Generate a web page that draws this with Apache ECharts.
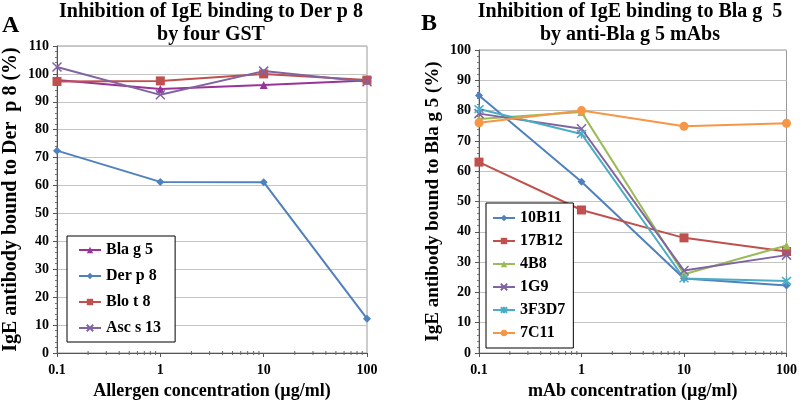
<!DOCTYPE html>
<html>
<head>
<meta charset="utf-8">
<script src="https://cdn.jsdelivr.net/npm/echarts@6/dist/echarts.min.js"></script>
<style>
  html, body { margin: 0; padding: 0; background: #fff; }
  #chart { width: 800px; height: 405px; }
</style>
</head>
<body>
<div id="chart"></div>
<script>
// concentrations (µg/ml)
const conc = [0.1, 1, 10, 100];
const minorTicks = [0.2, 0.3, 0.4, 0.5, 0.6, 0.7, 0.8, 0.9, 2, 3, 4, 5, 6, 7, 8, 9, 20, 30, 40, 50, 60, 70, 80, 90];

// panel A
const blaG5 = [97.8, 94.6, 96.0, 97.6];
const derP8 = [72.5, 61.3, 61.2, 12.3];
const bloT8 = [97.3, 97.5, 100.0, 97.8];
const ascS13 = [102.5, 92.5, 101.0, 97.2];

// panel B
const b10B11 = [85.0, 56.5, 24.6, 22.3];
const b17B12 = [63.0, 47.2, 38.0, 33.5];
const b4B8 = [77.2, 79.5, 26.0, 35.5];
const b1G9 = [79.0, 74.0, 27.2, 32.3];
const b3F3D7 = [80.5, 72.3, 24.6, 23.8];
const b7C11 = [76.0, 80.0, 74.8, 75.8];

const font = "'Liberation Serif', 'Times New Roman', serif";
const crossPath = 'path://M0,0L10,10M10,0L0,10';
const starPath = 'path://M0,0L10,10M10,0L0,10M5,-1L5,11';

function pairs(vals) {
  return conc.map((c, i) => [c, vals[i]]);
}

function line(name, vals, color, symbol, size, idx) {
  const stroke = symbol.startsWith('path://');
  return {
    name: name,
    type: 'line',
    xAxisIndex: idx,
    yAxisIndex: idx,
    data: pairs(vals),
    symbol: symbol,
    symbolSize: size,
    showSymbol: true,
    lineStyle: { color: color, width: 2 },
    itemStyle: stroke
      ? { color: 'rgba(0,0,0,0)', borderColor: color, borderWidth: 1.5 }
      : { color: color, borderWidth: 0 },
    emphasis: { disabled: true },
    z: 3
  };
}

function minorSeries(idx) {
  return {
    type: 'custom',
    xAxisIndex: idx,
    yAxisIndex: idx,
    data: minorTicks.map(v => [v, 0]),
    silent: true,
    z: 4,
    renderItem: function (params, api) {
      const p = api.coord([api.value(0), 0]);
      return {
        type: 'line',
        shape: { x1: p[0], y1: p[1] - 2, x2: p[0], y2: p[1] + 2 },
        style: { stroke: '#666', lineWidth: 1 }
      };
    }
  };
}

function xAxis(idx, name) {
  return {
    type: 'log',
    gridIndex: idx,
    logBase: 10,
    min: 0.1,
    max: 100,
    name: name,
    nameLocation: 'middle',
    nameGap: 29,
    nameTextStyle: { fontFamily: font, fontWeight: 'bold', fontSize: 18, color: '#000' },
    axisLine: { lineStyle: { color: '#555', width: 1 } },
    axisTick: { show: true, length: 4, lineStyle: { color: '#555' } },
    axisLabel: {
      fontFamily: font, fontWeight: 'bold', fontSize: 14, color: '#000', margin: 10,
      formatter: v => String(v)
    },
    splitLine: { show: false }
  };
}

function yAxis(idx, name, max, gap, size) {
  return {
    type: 'value',
    gridIndex: idx,
    min: 0,
    max: max,
    interval: 10,
    name: name,
    nameLocation: 'middle',
    nameGap: gap,
    nameTextStyle: { fontFamily: font, fontWeight: 'bold', fontSize: size, color: '#000' },
    axisLine: { show: true, lineStyle: { color: '#555', width: 1 } },
    axisTick: { show: true, length: 4, lineStyle: { color: '#555' } },
    minorTick: { show: true, splitNumber: 5, length: 2, lineStyle: { color: '#777' } },
    axisLabel: { fontFamily: font, fontWeight: 'bold', fontSize: 14, color: '#000', margin: 8 },
    splitLine: { show: true, lineStyle: { color: '#c4c4c4', width: 1 } }
  };
}

const legendText = { fontFamily: font, fontWeight: 'bold', fontSize: 16, color: '#000' };
const titleText = { fontFamily: font, fontWeight: 'bold', fontSize: 20, lineHeight: 23, color: '#000' };
const letterText = { fontFamily: font, fontWeight: 'bold', fontSize: 24, color: '#000' };

const chart = echarts.init(document.getElementById('chart'), null, { renderer: 'canvas' });
chart.setOption({
  animation: false,
  backgroundColor: '#fff',
  title: [
    { text: 'Inhibition of IgE binding to Der p 8\nby four GST', left: 211, top: 0, padding: 0,
      textAlign: 'center', textStyle: titleText },
    { text: 'Inhibition of IgE binding to Bla g  5\nby anti-Bla g 5 mAbs', left: 630, top: 0, padding: 0,
      textAlign: 'center', textStyle: titleText },
    { text: 'A', left: 2, top: 14, padding: 0, textStyle: letterText },
    { text: 'B', left: 421, top: 12, padding: 0, textStyle: letterText }
  ],
  grid: [
    { left: 56, right: 433, top: 46, bottom: 51, show: true, borderColor: '#999', borderWidth: 1 },
    { left: 479, right: 10, top: 50, bottom: 50, show: true, borderColor: '#999', borderWidth: 1 }
  ],
  legend: [
    { data: ['Bla g 5', 'Der p 8', 'Blo t 8', 'Asc s 13'], orient: 'vertical', left: 67, top: 236,
      width: 110, itemWidth: 22, itemHeight: 8, itemGap: 10, padding: [6, 14, 6, 11],
      borderColor: '#000', borderWidth: 1, backgroundColor: '#fff', textStyle: legendText },
    { data: ['10B11', '17B12', '4B8', '1G9', '3F3D7', '7C11'], orient: 'vertical', left: 486, top: 203,
      itemWidth: 22, itemHeight: 8, itemGap: 7, padding: [7, 8, 7, 6],
      borderColor: '#000', borderWidth: 1, backgroundColor: '#fff', textStyle: legendText }
  ],
  xAxis: [xAxis(0, 'Allergen concentration (µg/ml)'), xAxis(1, 'mAb concentration (µg/ml)')],
  yAxis: [
    yAxis(0, 'IgE antibody bound to Der  p 8 (%)', 110, 36, 20),
    yAxis(1, 'IgE antibody bound to Bla g 5 (%)', 100, 36, 19)
  ],
  series: [
    line('Bla g 5', blaG5, '#993399', 'triangle', 8, 0),
    line('Der p 8', derP8, '#4F81BD', 'diamond', 8, 0),
    line('Blo t 8', bloT8, '#C0504D', 'rect', 9, 0),
    line('Asc s 13', ascS13, '#8064A2', crossPath, 9, 0),
    minorSeries(0),
    line('10B11', b10B11, '#4F81BD', 'diamond', 8, 1),
    line('17B12', b17B12, '#C0504D', 'rect', 9, 1),
    line('4B8', b4B8, '#9BBB59', 'triangle', 8, 1),
    line('1G9', b1G9, '#8064A2', crossPath, 9, 1),
    line('3F3D7', b3F3D7, '#4BACC6', starPath, 9, 1),
    line('7C11', b7C11, '#F79646', 'circle', 9, 1),
    minorSeries(1)
  ]
});
</script>
</body>
</html>
